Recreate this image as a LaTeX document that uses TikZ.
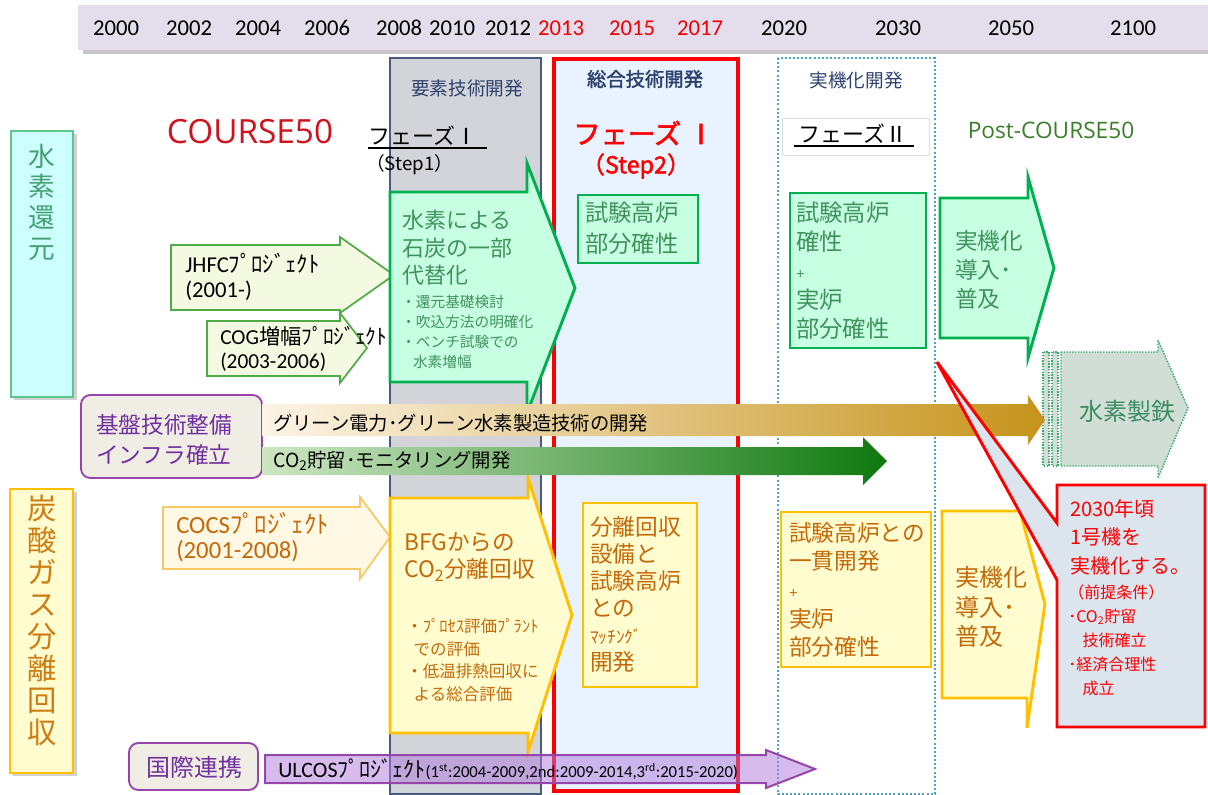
\documentclass[tikz,border=0pt]{standalone}
\usepackage{fontspec}
\setmainfont{Carlito}
\newfontfamily\jp[AutoFakeBold=2]{Noto Sans CJK JP}
\newfontfamily\os{Open Sans}
\usepackage{tikz}

\definecolor{barfill}{RGB}{228,222,236}
\definecolor{yred}{RGB}{240,0,0}
\definecolor{colgray}{RGB}{211,212,217}
\definecolor{colline}{RGB}{70,90,130}
\definecolor{colblue}{RGB}{232,243,255}
\definecolor{dotline}{RGB}{75,165,195}
\definecolor{hdblue}{RGB}{45,65,110}
\definecolor{c50red}{RGB}{205,20,30}
\definecolor{postgreen}{RGB}{60,125,45}
\definecolor{mint}{RGB}{198,255,226}
\definecolor{gline}{RGB}{0,176,80}
\definecolor{gtext}{RGB}{65,145,95}
\definecolor{jfill}{RGB}{244,250,226}
\definecolor{jline}{RGB}{80,170,70}
\definecolor{ofill}{RGB}{255,253,208}
\definecolor{oline}{RGB}{255,192,0}
\definecolor{otext}{RGB}{195,105,10}
\definecolor{cfill}{RGB}{255,248,228}
\definecolor{cline}{RGB}{248,200,100}
\definecolor{hbfill}{RGB}{205,255,255}
\definecolor{hbline}{RGB}{90,200,140}
\definecolor{hbtext}{RGB}{70,160,115}
\definecolor{cbtext}{RGB}{205,125,20}
\definecolor{purp}{RGB}{112,48,160}
\definecolor{purpline}{RGB}{150,70,170}
\definecolor{pfill}{RGB}{240,237,228}
\definecolor{goldL}{RGB}{252,244,230}
\definecolor{goldR}{RGB}{198,148,28}
\definecolor{grnL}{RGB}{205,230,195}
\definecolor{grnR}{RGB}{15,120,15}
\definecolor{ulfill}{RGB}{175,120,220}
\definecolor{callfill}{RGB}{220,228,238}
\definecolor{h2fill}{RGB}{208,222,214}
\definecolor{h2line}{RGB}{60,170,110}
\definecolor{h2text}{RGB}{60,140,100}

\begin{document}
\begin{tikzpicture}[x=0.75pt,y=-0.75pt,
  yr/.style={font=\fontsize{17}{20}\selectfont,inner sep=0},
  hdr/.style={text=hdblue,font=\jp\fontsize{14}{16}\selectfont,inner sep=0},
  gshape/.style={draw=gline,fill=mint,line width=2.2pt},
  oshape/.style={draw=oline,fill=ofill,line width=2.2pt},
  jshape/.style={draw=jline,fill=jfill,line width=1.3pt},
  cshape/.style={draw=cline,fill=cfill,line width=1.3pt},
  h2shape/.style={draw=h2line,fill=h2fill,line width=1.1pt,densely dotted},
  purpbox/.style={draw=purpline,fill=pfill,rounded corners=7pt,line width=1.4pt},
  gtxt/.style 2 args={text=gtext,font=\jp\fontsize{#1}{#2}\selectfont,align=left,inner sep=0,anchor=west},
  otxt/.style 2 args={text=otext,font=\jp\fontsize{#1}{#2}\selectfont,align=left,inner sep=0,anchor=west},
  ptxt/.style={text=purp,font=\jp\fontsize{17}{22.5}\selectfont,align=left,inner sep=0}]
\useasboundingbox (0,0) rectangle (1208,794);

\fill[black!22] (83,9) rectangle (1208,54);
\fill[barfill] (78,5) rectangle (1208,50);
\foreach \x/\yr/\c in {116/2000/black,189/2002/black,258/2004/black,327/2006/black,
  399/2008/black,452/2010/black,508/2012/black,561/2013/yred,632/2015/yred,700/2017/yred,
  784/2020/black,898/2030/black,1011/2050/black,1133/2100/black}
  \node[yr,text=\c] (y\yr) at (\x,28) {\yr};

\draw[draw=colline,fill=colgray,line width=0.9pt] (390,58) rectangle (541,794);
\draw[draw=red,fill=colblue,line width=2.4pt] (554,59) rectangle (738,791);
\draw[draw=dotline,line width=2pt,dash pattern=on 1.5pt off 1.6pt] (778,58) rectangle (935,794);

\node[hdr] (hd1) at (467,88) {要素技術開発};
\node[hdr,font=\jp\bfseries\fontsize{14.5}{16}\selectfont] (hd2) at (645,79) {総合技術開発};
\node[hdr] (hd3) at (856,80) {実機化開発};

\node[text=c50red,font=\os\fontsize{25}{30}\selectfont,inner sep=0] (c50) at (250,132) {COURSE50};
\node[font=\jp\fontsize{16.5}{20}\selectfont,inner sep=0,anchor=west] (ph1) at (368,136) {フェーズⅠ};
\draw[line width=1pt] (368,148) -- (487,148);
\node[font=\jp\fontsize{14}{16}\selectfont,inner sep=0,anchor=west] (st1) at (366,165) {（Step1）};
\node[text=red,font=\jp\bfseries\fontsize{20.5}{24}\selectfont,inner sep=0] (ph1b) at (644,133) {フェーズ Ⅰ};
\node[text=red,font=\jp\bfseries\fontsize{17.5}{20}\selectfont,inner sep=0] (st2) at (636,166) {（Step2）};
\draw[black!12,fill=white] (782,118) rectangle (929,155);
\node[font=\jp\fontsize{16.5}{20}\selectfont,inner sep=0] (ph2) at (853,134) {フェーズⅡ};
\draw[line width=1pt] (794,146) -- (914,146);
\node[text=postgreen,font=\os\fontsize{17}{20}\selectfont,inner sep=0] (post) at (1051,130) {Post-COURSE50};

\fill[black!18] (14,134) rectangle (77,400);
\draw[draw=hbline,fill=hbfill,line width=1.2pt] (11,131) rectangle (73,397);
\node[text=hbtext,font=\jp\fontsize{20}{23}\selectfont,align=center,inner sep=0] (h2red) at (42,202) {水\\素\\還\\元};
\fill[black!18] (13,492) rectangle (77,776);
\draw[draw=oline,fill=ofill,line width=1.2pt] (10,489) rectangle (73,773);
\node[text=cbtext,font=\jp\fontsize{22}{24}\selectfont,align=center,inner sep=0] (co2sep) at (42,620) {炭\\酸\\ガ\\ス\\分\\離\\回\\収};

\draw[purpbox] (81,395) rectangle (262,478);
\node[ptxt,anchor=west] (infra) at (96,440) {基盤技術整備\\インフラ確立};
\draw[purpbox] (129,743) rectangle (258,790);
\node[ptxt,font=\jp\fontsize{18}{22}\selectfont] (intl) at (194,767) {国際連携};

\draw[jshape] (171,245) -- (340,245) -- (340,237) -- (394,275) -- (340,313) -- (340,310) -- (171,310) -- cycle;
\node[anchor=west,inner sep=0,align=left,font=\fontsize{17}{19}\selectfont] (jhfc) at (185,277) {JHFC{\jp ﾌﾟﾛｼﾞｪｸﾄ}\\(2001-)};
\draw[jshape] (207,321) -- (340,321) -- (340,313) -- (367,348) -- (340,383) -- (340,376) -- (207,376) -- cycle;
\node[anchor=west,inner sep=0,align=left,font=\fontsize{16}{17.5}\selectfont] (cog) at (220,349) {COG{\jp 増幅ﾌﾟﾛｼﾞｪｸﾄ}\\(2003-2006)};
\draw[cshape] (163,507) -- (360,507) -- (360,497) -- (390,537) -- (360,579) -- (360,569) -- (163,569) -- cycle;
\node[anchor=west,inner sep=0,align=left,text=otext,font=\fontsize{18.5}{19}\selectfont] (cocs) at (176,537) {COCS{\jp ﾌﾟﾛｼﾞｪｸﾄ}\\(2001-2008)};

\draw[gshape] (390,192) -- (527,192) -- (527,163) -- (575,288) -- (527,413) -- (527,382) -- (390,382) -- cycle;
\node[gtxt={16.5}{20.6}] (h2coal) at (402,248) {水素による\\石炭の一部\\代替化};
\node[gtxt={11}{14.8}] (h2sub) at (401,332) {・還元基礎検討\\・吹込方法の明確化\\・ベンチ試験での\\\hspace{0.8em}水素増幅};
\draw[oshape] (390,498) -- (528,498) -- (528,478) -- (572,615) -- (528,752) -- (528,733) -- (390,733) -- cycle;
\node[otxt={17}{20}] (bfg) at (404,557) {BFGからの\\CO\textsubscript{2}分離回収};
\node[otxt={12.4}{17}] (bfgsub) at (406,660) {・ﾌﾟﾛｾｽ評価ﾌﾟﾗﾝﾄ\\\hspace{0.45em}での評価\\・低温排熱回収に\\\hspace{0.45em}よる総合評価};

\draw[gshape] (578,195) rectangle (698,263);
\node[gtxt={17.5}{23}] (testbf) at (585,228) {試験高炉\\部分確性};
\draw[oshape] (583,503) rectangle (697,687);
\node[otxt={17}{20.25}] (match) at (590,594) {分離回収\\設備と\\試験高炉\\との\\{\fontsize{13}{14}\selectfont ﾏｯﾁﾝｸﾞ}\\開発};

\draw[gshape] (790,193) rectangle (926,348);
\node[gtxt={17.5}{21.75}] (ph2up) at (796,271) {試験高炉\\確性\\{\fontsize{11}{12}\selectfont +}\\実炉\\部分確性};
\draw[oshape] (781,512) rectangle (931,667);
\node[otxt={17}{21.5}] (ph2low) at (789,590) {試験高炉との\\一貫開発\\{\fontsize{11}{12}\selectfont +}\\実炉\\部分確性};

\draw[gshape] (940,198) -- (1028,198) -- (1028,177) -- (1054,268) -- (1028,358) -- (1028,338) -- (940,338) -- cycle;
\node[gtxt={17}{21.75}] (impup) at (955,270) {実機化\\導入･\\普及};
\draw[oshape] (942,511) -- (1020,511) -- (1045,604) -- (1027,728) -- (1027,698) -- (942,698) -- cycle;
\node[otxt={18}{22}] (implow) at (955,607) {実機化\\導入･\\普及};

\draw[h2shape] (1043,352) rectangle (1049,466);
\draw[h2shape] (1052,352) rectangle (1058,466);
\draw[h2shape] (1061,352) -- (1158,352) -- (1158,340) -- (1188,408) -- (1158,478) -- (1158,466) -- (1061,466) -- cycle;
\node[text=h2text,font=\jp\fontsize{18}{20}\selectfont,inner sep=0] (h2fe) at (1127,411) {水素製鉄};

\shade[left color=goldL,right color=goldR] (262,404) -- (1028,404) -- (1028,395) -- (1045,420) -- (1028,445) -- (1028,436) -- (262,436) -- cycle;
\node[anchor=west,inner sep=0,font=\jp\fontsize{14.5}{16}\selectfont] (green) at (273,423) {グリーン電力･グリーン水素製造技術の開発};
\shade[left color=grnL,right color=grnR] (262,447) -- (863,447) -- (863,437) -- (887,461) -- (863,485) -- (863,475) -- (262,475) -- cycle;
\node[anchor=west,inner sep=0,font=\jp\fontsize{14.5}{16}\selectfont] (ccs) at (273,461) {CO\textsubscript{2}貯留･モニタリング開発};

\draw[draw=purpline,fill=ulfill,fill opacity=0.5,line width=1.5pt] (265,755) -- (766,755) -- (766,750) -- (815,769) -- (766,788) -- (766,783) -- (265,783) -- cycle;
\node[anchor=west,inner sep=0,font=\fontsize{16.5}{18}\selectfont] (ulcos) at (278,769) {ULCOS{\jp ﾌﾟﾛｼﾞｪｸﾄ}{\fontsize{12.5}{14}\selectfont(1\textsuperscript{st}:2004-2009,2nd:2009-2014,3\textsuperscript{rd}:2015-2020)}};

\draw[draw=red,fill=callfill,line width=2.2pt] (1057,485) -- (1205,485) -- (1205,727) -- (1057,727) -- (1057,580) -- (937,362) -- (1057,523) -- cycle;
\node[text=red,font=\jp\fontsize{15}{21.4}\selectfont,align=left,inner sep=0,anchor=west] (call1) at (1070,537) {2030年頃\\1号機を\\実機化する。};
\node[text=red,font=\jp\fontsize{12}{18}\selectfont,align=left,inner sep=0,anchor=west] (call2) at (1068,640) {（前提条件）\\･CO\textsubscript{2}貯留\\\hspace{0.9em}技術確立\\･経済合理性\\\hspace{0.9em}成立};
\end{tikzpicture}
\end{document}
